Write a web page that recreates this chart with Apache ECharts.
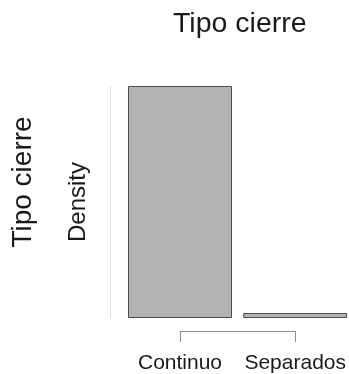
<!DOCTYPE html>
<html>
<head>
<meta charset="utf-8">
<script src="https://cdn.jsdelivr.net/npm/echarts@6/dist/echarts.min.js"></script>
<style>
  html, body { margin: 0; padding: 0; background: #ffffff; }
  #chart { width: 349px; height: 374px; }
</style>
</head>
<body>
<div id="chart"></div>
<script>
// Closure type categories and their density (share of observations)
const categories = ['Continuo', 'Separados'];
const densities = [0.979, 0.021];
const chartTitle = 'Tipo cierre';
const outerLabel = 'Tipo cierre';
const valueAxisName = 'Density';

const FONT = '"Liberation Sans", Arial, Helvetica, sans-serif';

const chart = echarts.init(document.getElementById('chart'), null, { renderer: 'canvas' });

chart.setOption({
  animation: false,
  backgroundColor: '#ffffff',
  title: {
    text: chartTitle,
    left: 168,
    top: 5,
    textStyle: { fontFamily: FONT, fontSize: 28.5, fontWeight: 'normal', color: '#1a1a1a' }
  },
  grid: { left: 180, right: 53.5, top: 86, bottom: 55, containLabel: false },
  xAxis: {
    type: 'category',
    data: categories,
    boundaryGap: false,
    offset: 13,
    axisLine: { show: true, onZero: false, lineStyle: { color: '#8f8f8f', width: 1 } },
    axisTick: { show: true, length: 11, lineStyle: { color: '#8f8f8f', width: 1 } },
    axisLabel: { interval: 0, margin: 22, fontFamily: FONT, fontSize: 21, color: '#1a1a1a' },
    splitLine: { show: false }
  },
  yAxis: [
    {
      type: 'value',
      min: 0,
      max: 'dataMax',
      position: 'left',
      offset: 70,
      name: valueAxisName,
      nameLocation: 'middle',
      nameGap: 20,
      nameTextStyle: { fontFamily: FONT, fontSize: 24, color: '#1a1a1a' },
      axisLine: { show: true, lineStyle: { color: '#dedede', width: 1 } },
      axisTick: { show: false },
      axisLabel: { show: false },
      splitLine: { show: false }
    },
    {
      type: 'value',
      position: 'left',
      offset: 70,
      name: outerLabel,
      nameLocation: 'middle',
      nameGap: 73,
      nameTextStyle: { fontFamily: FONT, fontSize: 28, color: '#1a1a1a', padding: [0, 0, 0, 40] },
      axisLine: { show: false },
      axisTick: { show: false },
      axisLabel: { show: false },
      splitLine: { show: false }
    }
  ],
  series: [{
    type: 'bar',
    data: densities,
    yAxisIndex: 0,
    barWidth: 104,
    clip: false,
    itemStyle: { color: '#b3b3b3', borderColor: '#4d4d4d', borderWidth: 1 },
    emphasis: { disabled: true }
  }]
});
</script>
</body>
</html>
